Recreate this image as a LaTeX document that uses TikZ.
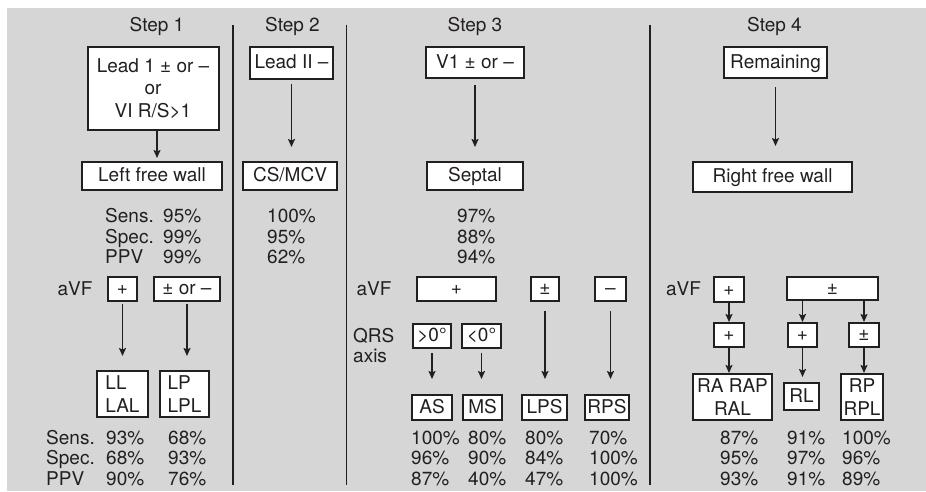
\documentclass[tikz,border=0pt]{standalone}
\usepackage{fontspec}
\setmainfont{TeX Gyre Heros}
\usetikzlibrary{arrows.meta}
\definecolor{ink}{RGB}{35,31,32}
\definecolor{panel}{RGB}{214,214,214}
% stacked rows, baseline of the first row
\newcommand{\rows}[1]{\begin{tabular}[t]{@{}l@{}}#1\end{tabular}}

\begin{document}
\begin{tikzpicture}[x=1pt,y=-1pt,font=\fontsize{19}{20.7}\selectfont,
		every node/.append style={text=ink},
		box/.style={draw=ink,line width=2pt,fill=white,inner sep=0pt,align=center},
		one/.style={box,text height=13.6pt,text depth=2.6pt},
		two/.style={box,font=\fontsize{19}{22.5}\selectfont},
		lbl/.style={inner sep=0pt,anchor=base west},
		arr/.style={draw=ink,line width=1.6pt,-{Stealth[length=8pt,width=7pt,inset=1.5pt]}},
		sep/.style={draw=ink,line width=1.5pt}]
		\useasboundingbox (0,0) rectangle (926,491);
		\fill[panel] (7,8) rectangle (926,491);
		% rules between the steps
		\draw[sep] (233,25) -- (233,485);
		\draw[sep] (346.5,25) -- (346.5,485);
		\draw[sep] (650,25) -- (650,485);

		% step 1
		\node[lbl,anchor=base] (step1) at (157,31) {Step 1};
		\node[two,minimum width=131pt,minimum height=83pt] (lead1) at (153,88.5) {Lead 1 ± or –\\or\\VI R/S>1};
		\node[one,minimum width=140pt,minimum height=28pt] (lfw) at (152,176) {Left free wall};
		\draw[arr,shorten >=3pt] ([xshift=4pt]lead1.south) -- ([xshift=4pt]lead1.south |- lfw.north);
		\node[lbl] (s1lab) at (105,222.5) {\rows{Sens.\\Spec.\\PPV}};
		\node[lbl] (s1val) at (163,222.5) {\rows{95\%\\99\%\\99\%}};
		\node[lbl,anchor=base] (avf1) at (75,295) {aVF};
		\node[one,minimum width=29pt,minimum height=24pt] (pos1) at (122.5,289) {+};
		\node[one,minimum width=66pt,minimum height=24pt] (neg1) at (187,289) {± or –};
		\node[two,align=left,minimum width=51pt,minimum height=46pt] (ll) at (122.5,394) {LL\\LAL};
		\node[two,align=left,minimum width=49pt,minimum height=46pt] (lp) at (184.5,394) {LP\\LPL};
		\draw[arr,shorten <=2pt,shorten >=14pt] (pos1.south) -- (pos1.south |- ll.north);
		\draw[arr,shorten <=2pt,shorten >=14pt] (neg1.south) -- (neg1.south |- lp.north);
		\node[lbl] (s1blab) at (46,444) {\rows{Sens.\\Spec.\\PPV}};
		\node[lbl] (llval) at (106,444) {\rows{93\%\\68\%\\90\%}};
		\node[lbl] (lpval) at (168,444) {\rows{68\%\\93\%\\76\%}};

		% step 2
		\node[lbl,anchor=base] (step2) at (292.5,31) {Step 2};
		\node[one,minimum width=83pt,minimum height=32pt] (lead2) at (291.5,63) {Lead II –};
		\node[one,minimum width=94pt,minimum height=28pt] (csmcv) at (290,176) {CS/MCV};
		\draw[arr,shorten <=4pt,shorten >=14pt] (lead2.south) -- (lead2.south |- csmcv.north);
		\node[lbl] (s2val) at (267,222.5) {\rows{100\%\\95\%\\62\%}};

		% step 3
		\node[lbl,anchor=base] (step3) at (475,31) {Step 3};
		\node[one,minimum width=98pt,minimum height=31pt] (v1) at (475,62.5) {V1 ± or –};
		\node[one,minimum width=96pt,minimum height=28pt] (septal) at (475,176) {Septal};
		\draw[arr,shorten <=6pt,shorten >=14pt] (v1.south) -- (septal.north);
		\node[lbl] (s3val) at (457,222.5) {\rows{97\%\\88\%\\94\%}};
		\node[lbl,anchor=base] (avf3) at (374,295) {aVF};
		\node[one,minimum width=79pt,minimum height=24pt] (pos3) at (456.5,289) {+};
		\node[one,minimum width=28pt,minimum height=24pt] (amb3) at (545,289) {±};
		\node[one,minimum width=31pt,minimum height=24pt] (neg3) at (610.5,289) {–};
		\node[lbl] (qrs) at (353,342) {\rows{QRS\\axis}};
		\node[one,minimum width=38pt,minimum height=24pt] (sup0) at (432,336) {>0°};
		\node[one,minimum width=39pt,minimum height=24pt] (inf0) at (481.5,336) {<0°};
		\node[one,minimum width=40pt,minimum height=25pt] (as) at (432,407.5) {AS};
		\node[one,minimum width=39pt,minimum height=25pt] (ms) at (482.5,407.5) {MS};
		\node[one,minimum width=45pt,minimum height=25pt] (lps) at (544.5,407.5) {LPS};
		\node[one,minimum width=44pt,minimum height=25pt] (rps) at (607,407.5) {RPS};
		\draw[arr,shorten <=4pt,shorten >=15pt] (sup0.south) -- (sup0.south |- as.north);
		\draw[arr,shorten <=4pt,shorten >=15pt] (inf0.south) -- (inf0.south |- ms.north);
		\draw[arr,shorten <=9pt,shorten >=15pt] (amb3.south) -- (amb3.south |- lps.north);
		\draw[arr,shorten <=9pt,shorten >=15pt] (neg3.south) -- (neg3.south |- rps.north);
		\node[lbl] (asval) at (411,444) {\rows{100\%\\96\%\\87\%}};
		\node[lbl] (msval) at (468,444) {\rows{80\%\\90\%\\40\%}};
		\node[lbl] (lpsval) at (525,444) {\rows{80\%\\84\%\\47\%}};
		\node[lbl] (rpsval) at (589,444) {\rows{70\%\\100\%\\100\%}};

		% step 4
		\node[lbl,anchor=base] (step4) at (774.5,31) {Step 4};
		\node[one,minimum width=103pt,minimum height=31pt] (remain) at (775.5,62.5) {Remaining};
		\node[one,minimum width=159pt,minimum height=30pt] (rfw) at (772.5,177) {Right free wall};
		\draw[arr,shorten <=8pt,shorten >=15pt] (remain.south) -- (remain.south |- rfw.north);
		\node[lbl,anchor=base] (avf4) at (683.5,295) {aVF};
		\node[one,minimum width=30pt,minimum height=25pt] (pos4) at (729,289.5) {+};
		\node[one,minimum width=91pt,minimum height=23pt] (amb4) at (832.5,288.5) {±};
		\node[one,minimum width=30pt,minimum height=24pt] (pos4a) at (729,335) {+};
		\node[one,minimum width=29pt,minimum height=24pt] (pos4b) at (802.5,335) {+};
		\node[one,minimum width=30pt,minimum height=24pt] (amb4b) at (864,335) {±};
		\node[two,minimum width=79pt,minimum height=46pt] (ra) at (732.5,397) {RA RAP\\RAL};
		\node[one,minimum width=35pt,minimum height=27pt] (rl) at (801.5,396.5) {RL};
		\node[two,minimum width=42pt,minimum height=46pt] (rp) at (862,397) {RP\\RPL};
		\draw[arr] (pos4.south) -- (pos4a.north);
		\draw[arr] (amb4.south -| pos4b.north) -- (pos4b.north);
		\draw[arr] (amb4.south -| amb4b.north) -- (amb4b.north);
		\draw[arr] (pos4a.south) -- (pos4a.south |- ra.north);
		\draw[arr,shorten >=5pt] (pos4b.south) -- (pos4b.south |- rl.north);
		\draw[arr] (amb4b.south) -- (amb4b.south |- rp.north);
		\node[lbl] (raval) at (720,444) {\rows{87\%\\95\%\\93\%}};
		\node[lbl] (rlval) at (787,444) {\rows{91\%\\97\%\\91\%}};
		\node[lbl] (rpval) at (842,444) {\rows{100\%\\96\%\\89\%}};
	\end{tikzpicture}
\end{document}
